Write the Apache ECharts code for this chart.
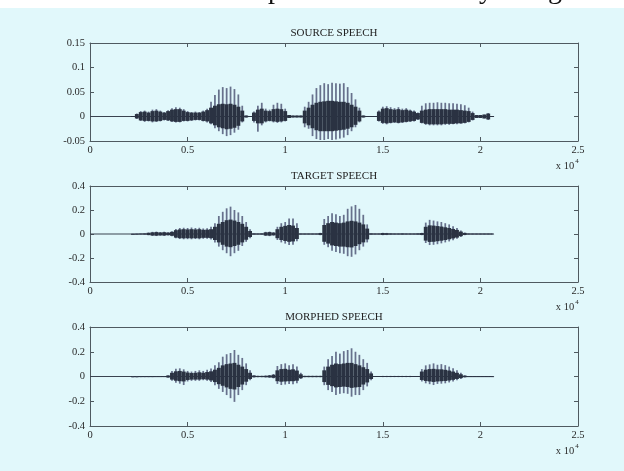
<!DOCTYPE html>
<html>
<head>
<meta charset="utf-8">
<script src="https://cdn.jsdelivr.net/npm/echarts@6.0.0/dist/echarts.min.js"></script>
<style>
  html, body { margin: 0; padding: 0; background: #e1f8fb; }
  #chart { width: 624px; height: 471px; }
</style>
</head>
<body>
<div id="chart"></div>
<script>
// Analysis frame centres (sample index, x 10^4)
const frameTimes = [
  0.22, 0.24, 0.26, 0.28, 0.30, 0.32, 0.34, 0.36, 0.38, 0.40,
  0.42, 0.44, 0.46, 0.48, 0.50, 0.52, 0.54, 0.56, 0.58, 0.60,
  0.62, 0.64, 0.66, 0.68, 0.70, 0.72, 0.74, 0.76, 0.78, 0.80,
  0.82, 0.84, 0.86, 0.88, 0.90, 0.92, 0.94, 0.96, 0.98, 1.00,
  1.02, 1.04, 1.06, 1.08, 1.10, 1.12, 1.14, 1.16, 1.18, 1.20,
  1.22, 1.24, 1.26, 1.28, 1.30, 1.32, 1.34, 1.36, 1.38, 1.40,
  1.42, 1.44, 1.46, 1.48, 1.50, 1.52, 1.54, 1.56, 1.58, 1.60,
  1.62, 1.64, 1.66, 1.68, 1.70, 1.72, 1.74, 1.76, 1.78, 1.80,
  1.82, 1.84, 1.86, 1.88, 1.90, 1.92, 1.94, 1.96, 1.98, 2.00,
  2.02, 2.04, 2.06
];

const xTickLabels = ['0', '0.5', '1', '1.5', '2', '2.5'];
const sourceYTickLabels = ['-0.05', '0', '0.05', '0.1', '0.15'];
const speechYTickLabels = ['-0.4', '-0.2', '0', '0.2', '0.4'];

// SOURCE SPEECH: per-frame peak (outer) and dense-body (core) amplitude
const sourcePeakHi = [
  .001,.006,.011,.012,.010,.014,.015,.012,.009,.013,.017,.019,.018,.015,.011,.009,.010,.009,.012,.016,
  .030,.044,.055,.060,.058,.061,.056,.045,.022,
  .002,.001,.010,.022,.028,.016,.014,.024,.028,.026,.016,
  .003,.002,.002,.002,
  .020,.030,.045,.058,.064,.068,.066,.069,.068,.067,.068,.060,.048,.035,.018,
  .002,.001,.001,.001,
  .012,.020,.021,.019,.017,.019,.016,.017,.014,.012,.008,
  .022,.027,.028,.028,.029,.028,.028,.027,.027,.026,.025,.023,.018,.010,
  .003,.003,.004,.007,.001
];
const sourcePeakLo = [
  -.001,-.005,-.009,-.011,-.010,-.012,-.011,-.010,-.008,-.009,-.011,-.012,-.012,-.010,-.010,-.009,-.008,-.008,-.010,-.012,
  -.016,-.024,-.030,-.036,-.040,-.038,-.033,-.027,-.012,
  -.002,-.001,-.012,-.031,-.018,-.012,-.010,-.012,-.013,-.012,-.010,
  -.003,-.002,-.002,-.002,
  -.022,-.025,-.040,-.046,-.048,-.048,-.046,-.048,-.047,-.045,-.043,-.038,-.030,-.022,-.012,
  -.002,-.001,-.001,-.001,
  -.010,-.015,-.016,-.014,-.013,-.014,-.013,-.012,-.011,-.010,-.007,
  -.014,-.017,-.018,-.018,-.018,-.018,-.017,-.017,-.016,-.016,-.015,-.014,-.012,-.008,
  -.003,-.003,-.004,-.007,-.001
];
const sourceCoreHi = [
  .001,.005,.009,.010,.008,.011,.012,.010,.008,.011,.014,.015,.015,.012,.009,.008,.008,.008,.010,.013,
  .018,.022,.025,.026,.025,.026,.024,.020,.012,
  .002,.001,.008,.014,.016,.012,.011,.015,.016,.015,.011,
  .003,.002,.002,.002,
  .012,.018,.024,.028,.030,.031,.032,.032,.031,.030,.030,.028,.024,.020,.012,
  .002,.001,.001,.001,
  .010,.016,.017,.015,.014,.015,.013,.014,.012,.010,.007,
  .012,.014,.015,.015,.015,.015,.015,.014,.014,.014,.013,.012,.011,.007,
  .003,.003,.004,.006,.001
];
const sourceCoreLo = [
  -.001,-.004,-.008,-.009,-.009,-.010,-.010,-.009,-.007,-.008,-.010,-.011,-.011,-.009,-.009,-.008,-.007,-.007,-.009,-.010,
  -.014,-.018,-.022,-.024,-.026,-.025,-.023,-.019,-.010,
  -.002,-.001,-.009,-.014,-.014,-.010,-.009,-.010,-.011,-.010,-.009,
  -.003,-.002,-.002,-.002,
  -.014,-.018,-.024,-.028,-.030,-.030,-.030,-.030,-.029,-.028,-.027,-.025,-.022,-.017,-.010,
  -.002,-.001,-.001,-.001,
  -.009,-.013,-.014,-.013,-.012,-.013,-.012,-.011,-.010,-.009,-.006,
  -.013,-.015,-.016,-.016,-.016,-.016,-.015,-.015,-.015,-.014,-.014,-.013,-.011,-.007,
  -.003,-.003,-.004,-.006,-.001
];

// TARGET SPEECH
const targetPeakHi = [
  .002,.003,.004,.006,.012,.018,.020,.016,.019,.014,.022,.042,.050,.052,.050,.054,.050,.052,.046,.048,
  .060,.090,.150,.185,.214,.228,.200,.180,.150,.100,.040,
  .006,.005,.006,.018,.020,.015,
  .060,.090,.100,.130,.130,.090,
  .005,.004,.004,.004,.004,.010,
  .125,.150,.172,.165,.150,.160,.210,.230,.242,.210,.160,.080,
  .006,.005,.005,.010,.009,.006,.005,.005,.006,.005,.005,.005,.006,.010,
  .095,.118,.112,.105,.100,.090,.080,.065,.050,.030,.012,
  .005,.004,.004,.004,.004,.004,.004
];
const targetPeakLo = [
  -.002,-.003,-.004,-.006,-.010,-.016,-.017,-.014,-.016,-.012,-.018,-.036,-.042,-.044,-.043,-.044,-.042,-.044,-.040,-.040,
  -.045,-.070,-.105,-.135,-.160,-.185,-.160,-.140,-.100,-.065,-.035,
  -.006,-.005,-.006,-.016,-.018,-.014,
  -.050,-.070,-.080,-.092,-.090,-.060,
  -.005,-.004,-.004,-.004,-.004,-.010,
  -.090,-.110,-.140,-.150,-.160,-.165,-.185,-.190,-.170,-.135,-.105,-.070,
  -.006,-.005,-.005,-.010,-.009,-.006,-.005,-.005,-.006,-.005,-.005,-.005,-.006,-.010,
  -.075,-.092,-.090,-.085,-.078,-.070,-.062,-.052,-.040,-.025,-.010,
  -.005,-.004,-.004,-.004,-.004,-.004,-.004
];
const targetCoreHi = [
  .002,.003,.004,.005,.010,.014,.016,.013,.015,.012,.018,.032,.038,.040,.038,.040,.038,.040,.035,.036,
  .040,.060,.085,.100,.115,.120,.112,.100,.085,.060,.025,
  .005,.004,.005,.014,.016,.012,
  .040,.060,.068,.075,.070,.050,
  .004,.004,.004,.004,.004,.008,
  .075,.090,.100,.095,.090,.095,.105,.110,.105,.095,.080,.045,
  .005,.004,.004,.008,.007,.005,.004,.004,.005,.004,.004,.004,.005,.008,
  .060,.072,.070,.066,.062,.056,.050,.042,.034,.020,.009,
  .004,.004,.004,.004,.004,.004,.004
];
const targetCoreLo = [
  -.002,-.003,-.004,-.005,-.009,-.013,-.014,-.012,-.013,-.010,-.015,-.030,-.035,-.036,-.035,-.036,-.035,-.036,-.032,-.032,
  -.035,-.050,-.070,-.090,-.105,-.110,-.100,-.090,-.070,-.048,-.025,
  -.005,-.004,-.005,-.013,-.014,-.011,
  -.035,-.050,-.058,-.065,-.062,-.042,
  -.004,-.004,-.004,-.004,-.004,-.008,
  -.065,-.080,-.095,-.100,-.105,-.105,-.110,-.112,-.100,-.085,-.070,-.045,
  -.005,-.004,-.004,-.008,-.007,-.005,-.004,-.004,-.005,-.004,-.004,-.004,-.005,-.008,
  -.055,-.066,-.065,-.060,-.056,-.050,-.044,-.037,-.030,-.018,-.008,
  -.004,-.004,-.004,-.004,-.004,-.004,-.004
];

// MORPHED SPEECH
const morphPeakHi = [
  .002,.002,.003,.003,.003,.003,.004,.004,.004,
  .010,.045,.062,.066,.058,.045,.040,.045,.050,.045,.055,.065,
  .090,.115,.160,.180,.190,.214,.175,.150,.106,.050,
  .010,.006,.006,.008,.012,.020,
  .085,.100,.106,.090,.100,.080,.030,
  .006,.006,.006,.006,.006,
  .080,.140,.165,.200,.185,.205,.214,.228,.200,.175,.140,.110,.040,
  .005,.005,.005,.005,.005,.005,.005,.005,.005,.005,.005,.005,
  .060,.090,.098,.106,.095,.100,.092,.080,.066,.050,.030,.010,
  .004,.004,.004,.004,.004,.004,.004
];
const morphPeakLo = [
  -.002,-.002,-.003,-.003,-.003,-.003,-.004,-.004,-.004,
  -.010,-.035,-.050,-.058,-.069,-.040,-.035,-.035,-.035,-.030,-.035,-.045,
  -.070,-.100,-.125,-.150,-.175,-.205,-.150,-.110,-.070,-.030,
  -.008,-.006,-.006,-.008,-.010,-.015,
  -.060,-.069,-.065,-.060,-.062,-.055,-.020,
  -.006,-.006,-.006,-.006,-.006,
  -.070,-.110,-.125,-.150,-.140,-.135,-.140,-.163,-.150,-.150,-.110,-.080,-.030,
  -.005,-.005,-.005,-.005,-.005,-.005,-.005,-.005,-.005,-.005,-.005,-.005,
  -.040,-.055,-.062,-.069,-.060,-.058,-.055,-.048,-.040,-.030,-.020,-.008,
  -.004,-.004,-.004,-.004,-.004,-.004,-.004
];
const morphCoreHi = [
  .002,.002,.003,.003,.003,.003,.003,.003,.003,
  .008,.030,.042,.045,.040,.032,.028,.030,.034,.030,.036,.042,
  .055,.070,.090,.100,.105,.110,.095,.080,.060,.030,
  .008,.005,.005,.006,.009,.014,
  .050,.060,.062,.055,.058,.048,.018,
  .005,.005,.005,.005,.005,
  .050,.080,.095,.105,.100,.105,.110,.110,.100,.090,.075,.060,.025,
  .004,.004,.004,.004,.004,.004,.004,.004,.004,.004,.004,.004,
  .040,.055,.060,.062,.058,.058,.054,.048,.040,.030,.018,.007,
  .003,.003,.003,.003,.003,.003,.003
];
const morphCoreLo = [
  -.002,-.002,-.003,-.003,-.003,-.003,-.003,-.003,-.003,
  -.008,-.025,-.034,-.038,-.040,-.028,-.025,-.025,-.025,-.022,-.025,-.032,
  -.045,-.062,-.075,-.088,-.100,-.105,-.085,-.065,-.042,-.020,
  -.006,-.005,-.005,-.006,-.008,-.011,
  -.038,-.042,-.040,-.038,-.038,-.034,-.014,
  -.005,-.005,-.005,-.005,-.005,
  -.045,-.068,-.078,-.088,-.085,-.082,-.085,-.092,-.088,-.085,-.065,-.048,-.020,
  -.004,-.004,-.004,-.004,-.004,-.004,-.004,-.004,-.004,-.004,-.004,-.004,
  -.028,-.036,-.040,-.044,-.040,-.038,-.036,-.032,-.027,-.020,-.013,-.006,
  -.003,-.003,-.003,-.003,-.003,-.003,-.003
];

const panels = [
  { title: 'SOURCE SPEECH', yMin: -0.05, yMax: 0.15, yStep: 0.05, yLabels: sourceYTickLabels,
    peakHi: sourcePeakHi, peakLo: sourcePeakLo, coreHi: sourceCoreHi, coreLo: sourceCoreLo,
    box: { left: 90, top: 43, width: 488, height: 98 } },
  { title: 'TARGET SPEECH', yMin: -0.4, yMax: 0.4, yStep: 0.2, yLabels: speechYTickLabels,
    peakHi: targetPeakHi, peakLo: targetPeakLo, coreHi: targetCoreHi, coreLo: targetCoreLo,
    box: { left: 90, top: 186, width: 488, height: 96 } },
  { title: 'MORPHED SPEECH', yMin: -0.4, yMax: 0.4, yStep: 0.2, yLabels: speechYTickLabels,
    peakHi: morphPeakHi, peakLo: morphPeakLo, coreHi: morphCoreHi, coreLo: morphCoreLo,
    box: { left: 90, top: 327, width: 488, height: 99 } }
];

const FRAME_HOP = frameTimes[1] - frameTimes[0];
const AXIS_COLOR = '#4f5a60';
const TEXT_COLOR = '#2a2a2a';
const SERIF = '"Liberation Serif", "DejaVu Serif", serif';

// One vertical bar per frame spanning [lo, hi]
function frameBars(widthFrac, color) {
  return function (params, api) {
    const t = api.value(0);
    const top = api.coord([t, api.value(2)]);
    const bot = api.coord([t, api.value(1)]);
    const w = api.size([FRAME_HOP, 0])[0] * widthFrac;
    return {
      type: 'rect',
      shape: { x: top[0] - w / 2, y: top[1], width: w, height: Math.max(1, bot[1] - top[1]) },
      style: { fill: color }
    };
  };
}

const grid = [], xAxis = [], yAxis = [], series = [], graphic = [];

panels.forEach((p, i) => {
  grid.push(Object.assign({ containLabel: false }, p.box));

  const xBase = {
    type: 'value', gridIndex: i, min: 0, max: 2.5, interval: 0.5,
    axisLine: { show: true, onZero: false, lineStyle: { color: AXIS_COLOR, width: 1 } },
    axisTick: { show: true, inside: true, length: 4, lineStyle: { color: AXIS_COLOR } },
    splitLine: { show: false }
  };
  xAxis.push(Object.assign({}, xBase, {
    position: 'bottom',
    axisLabel: { show: true, margin: 4, color: TEXT_COLOR, fontFamily: SERIF, fontSize: 10.5,
      formatter: (v, idx) => xTickLabels[idx] }
  }));
  xAxis.push(Object.assign({}, xBase, { position: 'top', axisLabel: { show: false } }));

  const yBase = {
    type: 'value', gridIndex: i, min: p.yMin, max: p.yMax, interval: p.yStep,
    axisLine: { show: true, onZero: false, lineStyle: { color: AXIS_COLOR, width: 1 } },
    axisTick: { show: true, inside: true, length: 4, lineStyle: { color: AXIS_COLOR } },
    splitLine: { show: false }
  };
  yAxis.push(Object.assign({}, yBase, {
    position: 'left',
    axisLabel: { show: true, margin: 5, color: TEXT_COLOR, fontFamily: SERIF, fontSize: 10.5,
      formatter: (v, idx) => p.yLabels[idx] }
  }));
  yAxis.push(Object.assign({}, yBase, { position: 'right', axisLabel: { show: false } }));

  const peak = frameTimes.map((t, k) => [t, p.peakLo[k], p.peakHi[k]]);
  const core = frameTimes.map((t, k) => [t, p.coreLo[k], p.coreHi[k]]);

  series.push({
    type: 'line', xAxisIndex: 2 * i, yAxisIndex: 2 * i, symbol: 'none', silent: true,
    data: [[0, 0], [frameTimes[frameTimes.length - 1], 0]],
    lineStyle: { color: '#3a4350', width: 1.2 }, z: 1
  });
  series.push({
    type: 'custom', xAxisIndex: 2 * i, yAxisIndex: 2 * i, silent: true, clip: true,
    renderItem: frameBars(0.45, '#67718c'), encode: { x: 0, y: [1, 2] }, data: peak, z: 2
  });
  series.push({
    type: 'custom', xAxisIndex: 2 * i, yAxisIndex: 2 * i, silent: true, clip: true,
    renderItem: frameBars(1.0, '#2a3242'), encode: { x: 0, y: [1, 2] }, data: core, z: 3
  });

  const cx = p.box.left + p.box.width / 2;
  graphic.push({
    type: 'text', x: cx, y: p.box.top - 10,
    style: { text: p.title, fill: '#222', font: '11px ' + SERIF, textAlign: 'center', textVerticalAlign: 'middle' }
  });
  const by = p.box.top + p.box.height + 25;
  graphic.push({
    type: 'text', x: 565, y: by,
    style: { text: 'x 10', fill: TEXT_COLOR, font: '10.5px ' + SERIF, textAlign: 'center', textVerticalAlign: 'middle' }
  });
  graphic.push({
    type: 'text', x: 577, y: by - 5,
    style: { text: '4', fill: TEXT_COLOR, font: '7px ' + SERIF, textAlign: 'center', textVerticalAlign: 'middle' }
  });
});

// Page strip above the figure with the tail of the running text
graphic.push({ type: 'rect', shape: { x: 0, y: 0, width: 624, height: 8 }, style: { fill: '#ffffff' }, z: 0 });
[['p', 275], ['y', 486], ['g', 555]].forEach(([ch, x]) => {
  graphic.push({
    type: 'text', x: x, y: -9, z: 1,
    style: { text: ch, fill: '#111', font: '28px ' + SERIF, textAlign: 'center', textVerticalAlign: 'middle' }
  });
});

const chart = echarts.init(document.getElementById('chart'), null, { renderer: 'canvas' });
chart.setOption({
  backgroundColor: '#e1f8fb',
  animation: false,
  grid, xAxis, yAxis, series, graphic
});
</script>
</body>
</html>
